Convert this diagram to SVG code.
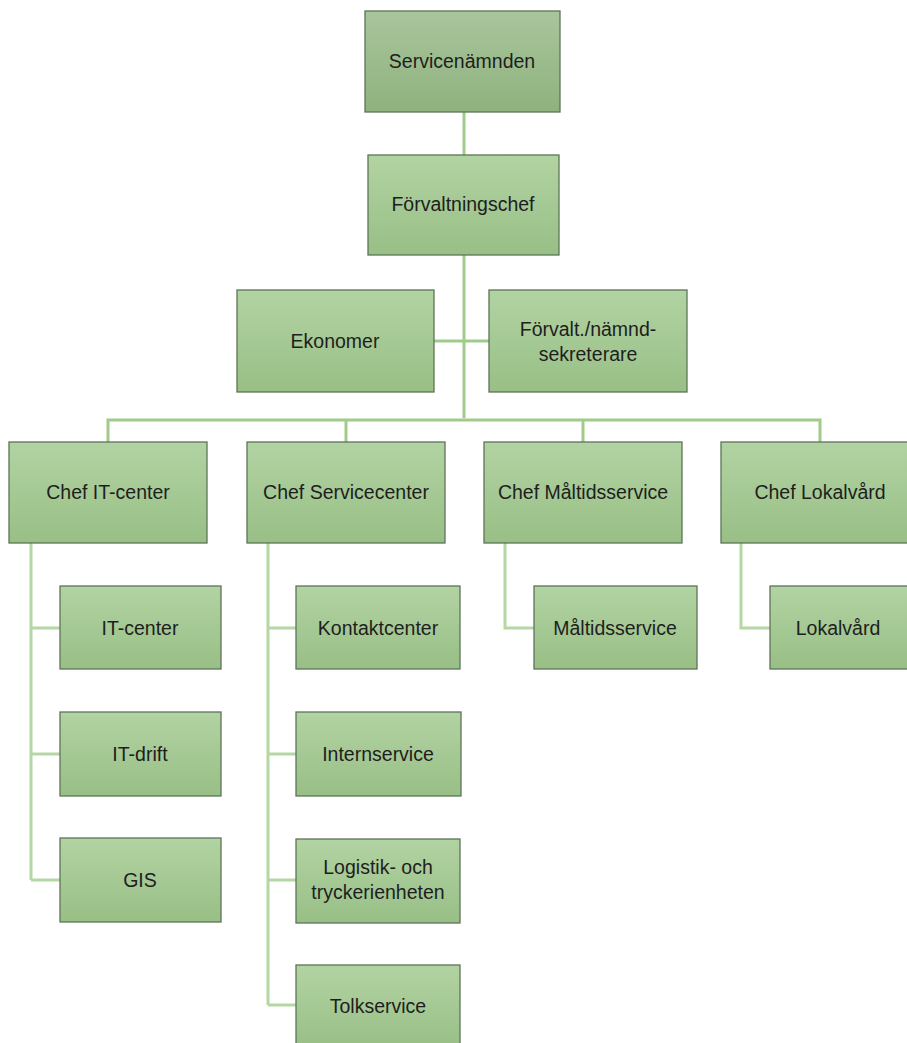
<svg xmlns="http://www.w3.org/2000/svg" width="907" height="1043" viewBox="0 0 907 1043">
<defs>
<linearGradient id="g" x1="0" y1="0" x2="0" y2="1"><stop offset="0" stop-color="#b2d3a2"/><stop offset="1" stop-color="#98bf86"/></linearGradient>
<linearGradient id="gt" x1="0" y1="0" x2="0" y2="1"><stop offset="0" stop-color="#a9c59c"/><stop offset="1" stop-color="#8fb27e"/></linearGradient>
<style>
.b{fill:url(#g);stroke:#5e7358;stroke-width:1.3}
.bt{fill:url(#gt);stroke:#5e7358;stroke-width:1.3}
text{font-family:"Liberation Sans",Arial,sans-serif;font-size:19.5px;fill:#1e1e1e;text-anchor:middle}
.c{fill:none;stroke:#9fcb8b;stroke-width:3}
.cs{fill:none;stroke:#b4d7a4;stroke-width:3}
</style>
</defs>
<rect width="907" height="1043" fill="#fff"/>
<g id="connectors">
<path class="c" d="M464 112V155M464 255V418M434 341H489M108 442V420H820V442M346 420V442M583 420V442"/>
<path class="cs" d="M31 543V880M31 628H60M31 754H60M31 880H60"/>
<path class="cs" d="M268 543V1005M268 628H296M268 754H296M268 880H296M268 1005H296"/>
<path class="cs" d="M505 543V628H534"/>
<path class="cs" d="M741 543V628H770"/>
</g>
<g id="n-servicenamnden"><rect class="bt" x="365" y="11" width="195" height="101"/><text x="462" y="68">Servicenämnden</text></g>
<g id="n-forvaltningschef"><rect class="b" x="368" y="155" width="191" height="100"/><text x="463" y="211">Förvaltningschef</text></g>
<g id="n-ekonomer"><rect class="b" x="237" y="290" width="197" height="102"/><text x="335" y="348">Ekonomer</text></g>
<g id="n-sekreterare"><rect class="b" x="489" y="290" width="198" height="102"/><text x="588" y="336">Förvalt./nämnd-</text><text x="588" y="361">sekreterare</text></g>
<g id="n-chef-it"><rect class="b" x="9" y="442" width="198" height="101"/><text x="108" y="499">Chef IT-center</text></g>
<g id="n-chef-service"><rect class="b" x="247" y="442" width="198" height="101"/><text x="346" y="499">Chef Servicecenter</text></g>
<g id="n-chef-maltid"><rect class="b" x="484" y="442" width="198" height="101"/><text x="583" y="499">Chef Måltidsservice</text></g>
<g id="n-chef-lokal"><rect class="b" x="721" y="442" width="198" height="101"/><text x="820" y="499">Chef Lokalvård</text></g>
<g id="n-itcenter"><rect class="b" x="60" y="586" width="161" height="83"/><text x="140" y="635">IT-center</text></g>
<g id="n-itdrift"><rect class="b" x="60" y="712" width="161" height="84"/><text x="140" y="761">IT-drift</text></g>
<g id="n-gis"><rect class="b" x="60" y="838" width="161" height="84"/><text x="140" y="887">GIS</text></g>
<g id="n-kontakt"><rect class="b" x="296" y="586" width="164" height="83"/><text x="378" y="635">Kontaktcenter</text></g>
<g id="n-intern"><rect class="b" x="296" y="712" width="165" height="84"/><text x="378" y="761">Internservice</text></g>
<g id="n-logistik"><rect class="b" x="296" y="839" width="164" height="84"/><text x="378" y="874">Logistik- och</text><text x="378" y="899">tryckerienheten</text></g>
<g id="n-tolk"><rect class="b" x="296" y="965" width="164" height="84"/><text x="378" y="1013">Tolkservice</text></g>
<g id="n-maltid"><rect class="b" x="534" y="586" width="163" height="83"/><text x="615" y="635">Måltidsservice</text></g>
<g id="n-lokal"><rect class="b" x="770" y="586" width="149" height="83"/><text x="838" y="635">Lokalvård</text></g>
</svg>
